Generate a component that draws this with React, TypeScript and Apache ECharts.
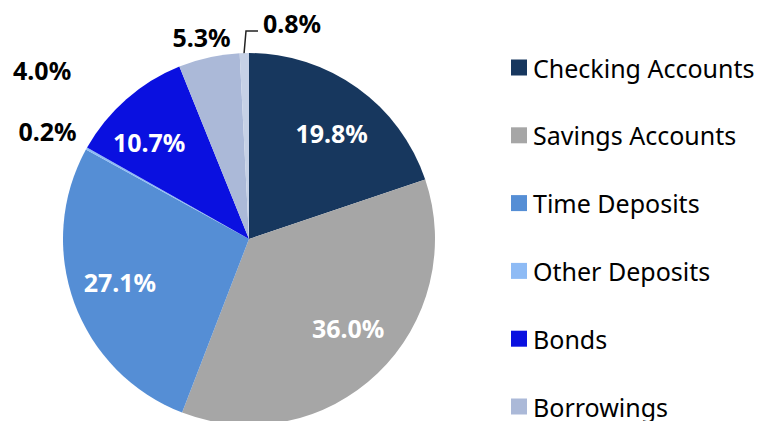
import React, { useEffect, useRef } from "react";
import * as echarts from "echarts";

const categories = [
  "Checking Accounts",
  "Savings Accounts",
  "Time Deposits",
  "Other Deposits",
  "Bonds",
  "Borrowings",
  "Other",
];
const shares = [19.8, 36.0, 27.1, 0.2, 10.7, 5.3, 0.8];
const colors = ["#17375E", "#A6A6A6", "#558ED5", "#8EBBF5", "#0A10E0", "#ABB9D8", "#C6D1E6"];
const innerLabelIdx = [0, 1, 2, 4];
const legendNames = categories.slice(0, 6);
const strayLabel = "4.0%";

const FONT = "'Noto Sans', sans-serif";

export default function App() {
  const ref = useRef<HTMLDivElement>(null);
  useEffect(() => {
    if (!ref.current) return;
    const chart = echarts.init(ref.current, undefined, { renderer: "svg" });
    const cx = 249;
    const cy = 239;
    const r = 186;
    const fmt = (v: number) => v.toFixed(1) + "%";

    const outerPos: Record<number, any> = {
      3: { x: 47.5, y: 131 },
      5: { x: 201.5, y: 37 },
      6: { x: 292, y: 23, labelLinePoints: [[244, 54], [246, 31], [258, 31]] },
    };
    const innerNudge: Record<number, any> = {
      0: { dx: 5, dy: 2 },
      1: { dx: 7, dy: -7 },
      2: { dx: -4, dy: -3 },
      4: { dx: -12, dy: 3 },
    };

    chart.setOption({
      animation: false,
      legend: {
        orient: "vertical",
        left: 511,
        top: 55,
        padding: 0,
        height: 600,
        itemWidth: 16,
        itemHeight: 16,
        itemGap: 42.8,
        icon: "rect",
        data: legendNames,
        textStyle: { fontFamily: FONT, fontSize: 25, color: "#000", padding: [0, 0, 0, 1] },
        selectedMode: false,
      },
      graphic: [
        {
          type: "text",
          left: 13,
          top: 57,
          style: { text: strayLabel, font: `bold 25px ${FONT}`, fill: "#000" },
        },
      ],
      series: [
        {
          type: "pie",
          center: [cx, cy],
          radius: [0, r],
          startAngle: 90,
          clockwise: true,
          silent: true,
          data: categories.map((name, i) => ({
            name,
            value: shares[i],
            itemStyle: { color: colors[i] },
            label: { show: innerLabelIdx.indexOf(i) < 0 },
            labelLine: { show: i === 6 },
          })),
          label: {
            position: "outside",
            formatter: (p: any) => fmt(p.value),
            fontFamily: FONT,
            fontSize: 25,
            fontWeight: "bold",
            color: "#000",
            overflow: "none",
            width: 120,
          },
          labelLine: { lineStyle: { color: "#222", width: 1.5 } },
          labelLayout: (p: any) => {
            const o = outerPos[p.dataIndex];
            if (!o) return {};
            return { ...o, align: "center", verticalAlign: "middle" };
          },
        },
        {
          type: "pie",
          center: [cx, cy],
          radius: [0, r * 1.4],
          startAngle: 90,
          clockwise: true,
          silent: true,
          itemStyle: { color: "rgba(0,0,0,0)" },
          data: categories.map((name, i) => ({
            name,
            value: shares[i],
            itemStyle: { color: "rgba(0,0,0,0)" },
            label: { show: innerLabelIdx.indexOf(i) >= 0 },
          })),
          label: {
            position: "inside",
            formatter: (p: any) => fmt(p.value),
            fontFamily: FONT,
            fontSize: 25,
            fontWeight: "bold",
            color: "#fff",
          },
          labelLine: { show: false },
          labelLayout: (p: any) => innerNudge[p.dataIndex] || {},
        },
      ],
    });
    return () => chart.dispose();
  }, []);
  return (
    <div
      ref={ref}
      style={{ position: "fixed", left: 0, top: 0, width: 761, height: 421, background: "#fff" }}
    />
  );
}
